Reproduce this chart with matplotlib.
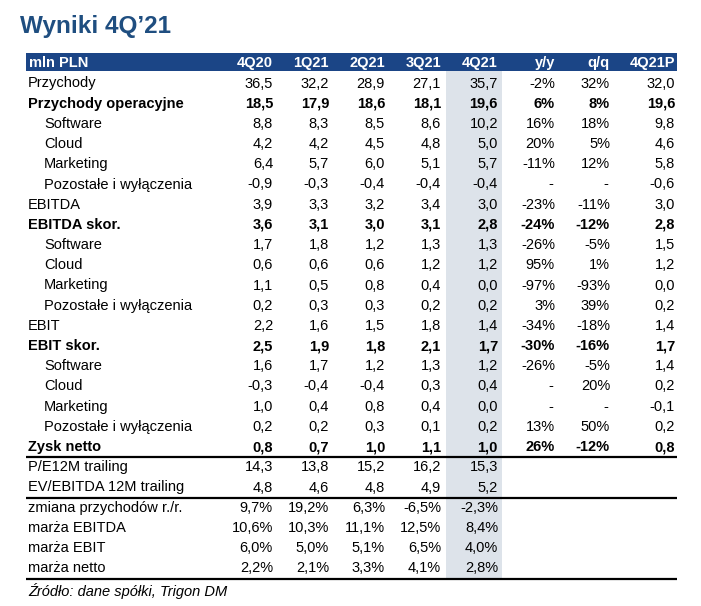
import matplotlib.pyplot as plt
from matplotlib.patches import Rectangle

plt.rcParams['font.family'] = ['Liberation Sans', 'DejaVu Sans']

title = 'Wyniki 4Q\u201921'
header = ['mln PLN', '4Q20', '1Q21', '2Q21', '3Q21', '4Q21', 'y/y', 'q/q', '4Q21P']

labels = ['Przychody', 'Przychody operacyjne', 'Software', 'Cloud', 'Marketing',
          'Pozostałe i wyłączenia', 'EBITDA', 'EBITDA skor.', 'Software', 'Cloud',
          'Marketing', 'Pozostałe i wyłączenia', 'EBIT', 'EBIT skor.', 'Software',
          'Cloud', 'Marketing', 'Pozostałe i wyłączenia', 'Zysk netto',
          'P/E12M trailing', 'EV/EBITDA 12M trailing', 'zmiana przychodów r./r.',
          'marża EBITDA', 'marża EBIT', 'marża netto']
indented = [2, 3, 4, 5, 8, 9, 10, 11, 14, 15, 16, 17]
bold_rows = [1, 7, 13, 18]

q4_20 = ['36,5', '18,5', '8,8', '4,2', '6,4', '-0,9', '3,9', '3,6', '1,7', '0,6', '1,1', '0,2',
         '2,2', '2,5', '1,6', '-0,3', '1,0', '0,2', '0,8', '14,3', '4,8', '9,7%', '10,6%', '6,0%', '2,2%']
q1_21 = ['32,2', '17,9', '8,3', '4,2', '5,7', '-0,3', '3,3', '3,1', '1,8', '0,6', '0,5', '0,3',
         '1,6', '1,9', '1,7', '-0,4', '0,4', '0,2', '0,7', '13,8', '4,6', '19,2%', '10,3%', '5,0%', '2,1%']
q2_21 = ['28,9', '18,6', '8,5', '4,5', '6,0', '-0,4', '3,2', '3,0', '1,2', '0,6', '0,8', '0,3',
         '1,5', '1,8', '1,2', '-0,4', '0,8', '0,3', '1,0', '15,2', '4,8', '6,3%', '11,1%', '5,1%', '3,3%']
q3_21 = ['27,1', '18,1', '8,6', '4,8', '5,1', '-0,4', '3,4', '3,1', '1,3', '1,2', '0,4', '0,2',
         '1,8', '2,1', '1,3', '0,3', '0,4', '0,1', '1,1', '16,2', '4,9', '-6,5%', '12,5%', '6,5%', '4,1%']
q4_21 = ['35,7', '19,6', '10,2', '5,0', '5,7', '-0,4', '3,0', '2,8', '1,3', '1,2', '0,0', '0,2',
         '1,4', '1,7', '1,2', '0,4', '0,0', '0,2', '1,0', '15,3', '5,2', '-2,3%', '8,4%', '4,0%', '2,8%']
yy = ['-2%', '6%', '16%', '20%', '-11%', '-', '-23%', '-24%', '-26%', '95%', '-97%', '3%',
      '-34%', '-30%', '-26%', '-', '-', '13%', '26%', '', '', '', '', '', '']
qq = ['32%', '8%', '18%', '5%', '12%', '-', '-11%', '-12%', '-5%', '1%', '-93%', '39%',
      '-18%', '-16%', '-5%', '20%', '-', '50%', '-12%', '', '', '', '', '', '']
q4_21p = ['32,0', '19,6', '9,8', '4,6', '5,8', '-0,6', '3,0', '2,8', '1,5', '1,2', '0,0', '0,2',
          '1,4', '1,7', '1,4', '0,2', '-0,1', '0,2', '0,8', '', '', '', '', '', '']
source = 'Źródło: dane spółki, Trigon DM'

columns = [q4_20, q1_21, q2_21, q3_21, q4_21, yy, qq, q4_21p]
col_right = [273, 329, 385, 441, 498, 555, 610, 675]

navy = '#1b4586'
shade = '#dde3ea'
fs = 10.5

fig = plt.figure(figsize=(7.01, 6.06), dpi=100)
ax = fig.add_axes([0, 0, 1, 1])
ax.set_xlim(0, 701)
ax.set_ylim(606, 0)
ax.axis('off')

ax.text(20, 32.5, title, fontsize=17.5, fontweight='bold', color='#1f4e80', va='baseline')

# header bar
ax.add_patch(Rectangle((26, 53), 651, 18, color=navy, lw=0))
ax.text(29, 67, header[0], color='white', fontweight='bold', fontsize=fs, va='baseline')
for h, xr in zip(header[1:], col_right):
    ax.text(xr, 67, h, color='white', fontweight='bold', fontsize=fs, va='baseline', ha='right')

# shaded 4Q21 column
ax.add_patch(Rectangle((446, 71), 56, 507, color=shade, lw=0, zorder=0))

y0, dy = 87.5, 20.2
for i, lab in enumerate(labels):
    y = y0 + i * dy
    w = 'bold' if i in bold_rows else 'normal'
    x = 44 if i in indented else 28
    ax.text(x, y, lab, fontsize=fs, fontweight=w, va='baseline')
    for col, xr in zip(columns, col_right):
        v = col[i]
        if v == '-':
            xr -= 2
        ax.text(xr, y, v, fontsize=fs, fontweight=w, va='baseline', ha='right')

for yl in [457, 497.5, 578.5]:
    ax.plot([26, 677], [yl, yl], color='black', lw=1.6, solid_capstyle='butt')

ax.text(28, 596, source, fontsize=fs, style='italic', va='baseline')

fig.savefig('out.png', dpi=100)
